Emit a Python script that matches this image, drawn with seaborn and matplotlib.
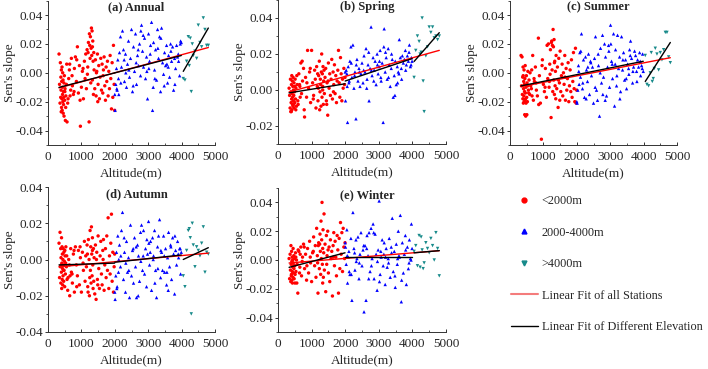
import numpy as np
import pandas as pd
import matplotlib
matplotlib.use('Agg')
import matplotlib.pyplot as plt
from matplotlib.lines import Line2D
from matplotlib.ticker import MultipleLocator
import seaborn as sns

# station altitudes (m), same stations in every season
alt_low = [330, 345, 360, 370, 380, 385, 390, 400, 405, 410,
           415, 420, 425, 430, 435, 440, 445, 450, 455, 460,
           470, 475, 480, 490, 500, 510, 520, 535, 550, 570,
           590, 620, 650, 680, 700, 730, 760, 790, 820, 850,
           880, 910, 940, 970, 1000, 1030, 1060, 1090, 1110, 1130,
           1150, 1170, 1190, 1210, 1230, 1250, 1260, 1270, 1280, 1290,
           1300, 1310, 1320, 1330, 1340, 1350, 1360, 1370, 1380, 1400,
           1420, 1440, 1460, 1480, 1500, 1520, 1540, 1560, 1580, 1600,
           1620, 1640, 1660, 1680, 1700, 1720, 1740, 1760, 1780, 1800,
           1820, 1840, 1860, 1880, 1900, 1920, 1940, 1960, 1980, 1995,
           560, 600, 640, 720, 780, 860, 960, 1050, 1200, 1450,
           395, 465, 505, 530, 660, 1180, 1240, 1330, 1490, 1650]
alt_mid = [2010, 2030, 2050, 2070, 2090, 2110, 2140, 2170, 2200, 2230,
           2260, 2290, 2320, 2350, 2380, 2410, 2440, 2470, 2500, 2530,
           2560, 2590, 2620, 2650, 2680, 2710, 2740, 2770, 2800, 2830,
           2860, 2890, 2920, 2950, 2980, 3010, 3040, 3070, 3100, 3130,
           3160, 3190, 3220, 3250, 3280, 3310, 3340, 3370, 3400, 3430,
           3460, 3490, 3520, 3550, 3580, 3610, 3640, 3670, 3700, 3730,
           3760, 3790, 3820, 3850, 3880, 3910, 3940, 3970, 3990, 2120,
           2060, 2180, 2280, 2420, 2550, 2700, 2850, 2960, 3060, 3200,
           3290, 3380, 3480, 3600, 3680, 3800, 3900, 3960, 2000, 2330,
           2640, 2780, 3020, 3150, 3560]
alt_high = [4050, 4100, 4150, 4200, 4230, 4260, 4290, 4320, 4350, 4400,
            4450, 4500, 4550, 4600, 4650, 4700, 4750, 4800]

# Sen's slope values, <2000m stations
annual_low = [0.013, -0.008, -0.021, 0.007, -0.017, -0.003, -0.012, 0.002, -0.024, -0.006,
              -0.018, 0.004, -0.026, -0.010, -0.015, 0.000, -0.020, -0.005, -0.028, -0.013,
              -0.017, -0.007, -0.030, -0.002, -0.019, -0.011, -0.033, -0.016, -0.008, -0.034,
              -0.021, -0.004, 0.006, -0.012, 0.010, -0.009, -0.015, 0.003, 0.011, -0.006,
              0.018, -0.014, 0.005, -0.037, -0.010, 0.001, -0.018, 0.008, -0.004, 0.013,
              -0.011, 0.016, 0.004, 0.021, -0.034, 0.019, 0.010, 0.025, -0.007, 0.017,
              0.031, 0.012, 0.029, -0.005, 0.022, 0.008, -0.015, 0.014, 0.002, -0.011,
              0.009, -0.016, 0.001, 0.013, -0.008, 0.005, -0.018, -0.003, 0.010, -0.012,
              0.006, -0.014, 0.002, 0.011, -0.009, -0.019, 0.004, -0.006, 0.008, -0.016,
              0.001, -0.011, 0.012, -0.004, -0.025, 0.007, -0.017, 0.019, -0.008, -0.026,
              0.006, -0.018, 0.002, -0.002, -0.013, 0.009, -0.019, 0.003, 0.014, 0.000,
              -0.027, -0.022, -0.013, -0.024, -0.016, -0.001, 0.027, 0.018, -0.020, -0.002]
spring_low = [0.001, -0.003, -0.010, 0.006, -0.012, -0.001, -0.007, 0.003, -0.005, 0.008,
              -0.011, -0.002, 0.005, -0.008, -0.004, 0.002, -0.009, 0.007, -0.006, 0.000,
              -0.003, 0.004, -0.010, -0.001, -0.007, 0.006, -0.005, 0.001, -0.009, 0.003,
              -0.006, 0.009, 0.002, 0.015, -0.002, 0.005, 0.012, -0.015, 0.007, -0.004,
              0.022, 0.001, 0.010, -0.007, 0.022, 0.004, -0.003, 0.011, 0.006, -0.010,
              0.013, 0.002, -0.006, 0.008, 0.016, -0.001, 0.006, 0.003, -0.009, 0.010,
              0.020, -0.004, 0.009, 0.002, 0.013, -0.008, 0.005, 0.011, -0.002, 0.007,
              0.012, -0.006, 0.004, -0.014, 0.015, 0.001, 0.009, -0.003, 0.006, 0.017,
              -0.005, 0.010, 0.003, 0.014, -0.002, 0.008, -0.007, 0.005, 0.011, 0.022,
              0.004, -0.004, 0.018, 0.009, -0.006, 0.006, 0.001, 0.012, 0.003, 0.007,
              0.008, -0.008, 0.003, 0.016, -0.011, 0.004, 0.012, -0.005, 0.001, -0.008,
              -0.012, -0.008, 0.002, -0.011, -0.004, 0.009, -0.011, 0.000, 0.005, -0.001]
summer_low = [0.012, -0.009, 0.011, -0.015, -0.003, -0.018, 0.004, -0.021, -0.011, -0.006,
              -0.016, 0.002, -0.020, -0.008, -0.013, -0.029, -0.004, -0.019, 0.005, -0.014,
              -0.030, -0.010, -0.021, -0.002, -0.017, -0.007, -0.020, 0.001, -0.012, -0.005,
              -0.015, -0.009, 0.002, 0.012, -0.019, -0.006, 0.004, -0.012, -0.016, 0.024,
              -0.002, -0.021, -0.046, 0.009, -0.008, -0.013, 0.003, -0.017, 0.019, -0.004,
              0.020, -0.010, 0.006, 0.016, -0.031, 0.022, 0.002, 0.019, -0.013, 0.030,
              0.018, -0.005, 0.023, -0.015, 0.008, -0.009, 0.001, -0.018, 0.012, -0.011,
              0.004, -0.024, 0.010, -0.007, 0.015, -0.013, -0.002, 0.006, -0.016, 0.000,
              -0.008, 0.012, -0.019, 0.003, -0.012, -0.004, 0.007, -0.020, -0.009, 0.002,
              -0.013, 0.009, -0.017, -0.006, 0.014, -0.011, -0.020, 0.017, -0.021, -0.012,
              -0.014, 0.000, -0.011, -0.004, -0.007, -0.022, 0.005, -0.010, -0.001, -0.005,
              -0.002, -0.018, -0.029, -0.009, -0.016, -0.006, 0.021, 0.007, -0.019, -0.003]
autumn_low = [0.009, -0.010, 0.015, -0.004, 0.006, -0.013, 0.001, -0.007, 0.012, -0.016,
              -0.002, 0.007, -0.011, 0.003, -0.005, -0.014, 0.000, -0.009, 0.006, -0.003,
              -0.012, 0.004, -0.006, -0.001, -0.015, 0.002, -0.008, 0.007, -0.004, -0.011,
              -0.017, 0.000, -0.020, 0.006, -0.007, -0.013, 0.003, -0.018, 0.007, -0.003,
              -0.009, 0.005, -0.014, 0.001, -0.018, 0.004, -0.006, 0.010, -0.012, 0.002,
              -0.004, 0.008, -0.015, 0.011, 0.000, -0.010, 0.016, -0.006, 0.007, -0.013,
              0.018, 0.003, -0.009, 0.012, -0.003, -0.016, 0.006, -0.012, 0.001, -0.019,
              0.008, -0.022, 0.004, -0.011, 0.013, -0.005, -0.016, 0.002, 0.010, -0.008,
              -0.014, 0.005, 0.011, -0.017, -0.003, 0.006, -0.010, 0.013, -0.006, 0.023,
              -0.016, 0.002, -0.008, 0.009, 0.025, -0.012, 0.004, -0.018, -0.004, 0.003,
              0.002, -0.010, -0.003, -0.008, 0.005, -0.015, 0.007, -0.002, -0.018, 0.000,
              -0.003, -0.006, 0.005, -0.002, -0.009, 0.003, -0.020, 0.005, -0.014, 0.000]
winter_low = [0.001, -0.013, 0.004, -0.007, -0.015, 0.010, -0.003, -0.010, 0.006, -0.001,
              -0.014, 0.002, -0.008, -0.016, 0.000, -0.005, -0.012, 0.008, -0.002, -0.009,
              0.003, -0.006, -0.013, 0.001, -0.004, -0.010, 0.005, -0.008, 0.000, -0.003,
              -0.023, 0.006, -0.005, 0.009, -0.011, 0.002, 0.011, -0.006, 0.004, -0.014,
              0.008, -0.009, 0.013, -0.002, -0.015, 0.005, 0.016, -0.004, 0.010, -0.012,
              0.022, 0.003, -0.023, 0.012, -0.006, 0.018, 0.006, -0.010, 0.027, 0.001,
              0.014, 0.040, -0.003, 0.008, 0.021, -0.012, 0.005, 0.032, -0.007, 0.011,
              -0.022, 0.017, 0.003, 0.020, -0.009, 0.009, -0.015, 0.014, 0.001, 0.006,
              -0.025, 0.010, 0.019, -0.004, 0.013, 0.002, -0.011, 0.017, 0.007, -0.023,
              0.015, -0.006, 0.026, 0.004, 0.019, -0.008, 0.022, 0.009, 0.001, 0.012,
              -0.016, 0.007, -0.009, -0.001, 0.009, -0.004, 0.002, 0.006, 0.010, -0.003,
              -0.011, -0.004, -0.016, 0.002, 0.004, -0.002, 0.011, -0.016, 0.007, 0.002]

# 2000-4000m stations
annual_mid = [-0.026, -0.008, 0.003, -0.012, 0.009, -0.004, 0.014, 0.025, 0.004, 0.029,
              0.016, -0.006, 0.013, -0.010, 0.006, 0.022, -0.003, 0.010, 0.030, -0.013,
              0.018, 0.001, 0.027, -0.008, 0.012, 0.005, 0.020, -0.002, 0.033, 0.015,
              0.004, 0.024, -0.004, 0.011, -0.018, 0.027, 0.008, 0.019, 0.035, -0.026,
              0.021, 0.002, 0.016, -0.005, 0.030, 0.010, 0.025, -0.013, 0.031, 0.007,
              -0.001, 0.014, 0.005, 0.019, -0.007, 0.012, -0.003, 0.020, 0.008, 0.018,
              -0.012, 0.010, 0.003, 0.019, 0.011, 0.008, -0.002, 0.022, 0.021, -0.015,
              -0.011, -0.007, 0.009, 0.002, -0.009, 0.016, 0.026, 0.001, 0.013, -0.004,
              0.017, 0.024, -0.009, 0.004, 0.015, -0.008, 0.013, 0.020, -0.015, 0.000,
              0.007, 0.029, 0.003, -0.010, 0.006]
spring_mid = [-0.006, 0.011, 0.009, -0.018, 0.013, 0.004, 0.016, 0.024, 0.007, 0.025,
              0.001, 0.010, -0.016, 0.017, 0.005, 0.012, 0.002, 0.009, 0.015, 0.004,
              0.019, 0.010, 0.023, 0.006, 0.014, -0.006, 0.012, 0.035, 0.008, 0.018,
              0.011, 0.016, 0.003, 0.020, 0.009, 0.013, 0.022, 0.005, 0.015, -0.018,
              0.034, 0.010, 0.018, 0.006, 0.023, 0.014, 0.002, 0.012, 0.017, -0.004,
              0.008, 0.016, 0.003, 0.013, 0.010, 0.028, 0.018, 0.012, 0.019, 0.015,
              0.017, 0.022, 0.014, 0.019, 0.016, 0.025, 0.013, 0.018, 0.016, 0.005,
              0.002, 0.015, 0.008, 0.010, 0.011, 0.021, 0.005, 0.014, 0.007, 0.021,
              0.007, 0.020, -0.003, 0.009, 0.006, 0.011, 0.021, 0.014, 0.010, 0.014,
              0.001, 0.011, 0.016, 0.024, 0.004]
summer_mid = [-0.021, -0.012, 0.005, -0.008, 0.014, -0.003, 0.027, -0.011, 0.009, -0.017,
              0.011, 0.002, -0.006, 0.013, -0.015, 0.008, -0.002, 0.004, -0.021, 0.010,
              0.025, -0.012, -0.019, 0.005, -0.030, 0.017, -0.007, 0.026, -0.003, 0.020,
              0.011, -0.016, 0.004, 0.019, -0.010, 0.033, 0.008, -0.004, 0.027, -0.023,
              0.016, -0.009, 0.026, 0.003, 0.011, -0.013, 0.025, 0.002, 0.014, -0.005,
              0.009, -0.011, 0.006, 0.003, 0.016, 0.022, 0.010, -0.007, 0.004, 0.015,
              0.012, 0.001, 0.009, 0.004, 0.014, -0.002, 0.005, 0.013, 0.001, 0.015,
              0.001, -0.007, -0.018, 0.007, -0.010, 0.000, -0.019, 0.015, 0.006, -0.002,
              -0.018, 0.009, -0.004, 0.012, 0.001, -0.006, 0.008, 0.003, -0.020, 0.004,
              0.013, -0.015, 0.020, 0.006, -0.001]
autumn_mid = [-0.022, -0.009, 0.004, -0.015, 0.013, -0.007, 0.008, -0.004, 0.016, 0.026,
              -0.011, 0.004, -0.018, 0.010, -0.007, 0.001, -0.021, 0.019, -0.009, 0.005,
              -0.013, 0.012, -0.004, -0.021, 0.008, 0.002, -0.012, 0.015, 0.019, -0.006,
              0.016, -0.008, 0.006, -0.015, 0.003, 0.021, -0.003, 0.010, -0.017, 0.012,
              0.002, 0.016, -0.006, -0.021, 0.007, 0.013, 0.022, -0.010, 0.004, -0.006,
              0.013, -0.007, 0.006, -0.014, 0.001, 0.015, -0.004, 0.008, -0.011, 0.012,
              0.003, -0.019, 0.005, -0.003, 0.010, 0.001, 0.006, -0.008, 0.004, 0.000,
              -0.016, 0.002, 0.012, -0.006, 0.006, -0.020, 0.002, 0.011, 0.004, -0.013,
              -0.005, 0.005, 0.002, -0.017, 0.007, 0.013, 0.003, 0.006, -0.018, -0.002,
              0.007, -0.001, 0.009, 0.000, -0.007]
winter_mid = [0.009, -0.003, 0.021, -0.016, 0.002, 0.006, -0.010, 0.015, -0.028, 0.033,
              0.008, -0.007, 0.014, 0.001, 0.016, -0.013, 0.004, 0.019, -0.004, 0.007,
              -0.036, 0.010, -0.028, 0.017, 0.003, 0.019, -0.008, 0.022, 0.001, 0.025,
              -0.013, 0.018, 0.004, -0.021, 0.007, 0.041, -0.010, 0.002, 0.014, -0.004,
              0.012, -0.017, 0.008, -0.005, 0.001, 0.015, -0.012, 0.009, 0.029, -0.008,
              0.006, -0.019, 0.011, -0.003, 0.020, 0.002, 0.031, -0.029, 0.012, -0.009,
              0.004, 0.017, -0.017, 0.009, -0.006, 0.014, 0.001, 0.025, 0.008, -0.008,
              0.003, -0.010, 0.005, -0.002, 0.010, -0.013, 0.019, -0.001, 0.006, 0.002,
              -0.002, 0.005, -0.011, 0.003, -0.014, 0.007, -0.002, 0.000, 0.012, -0.001,
              0.008, -0.004, -0.015, 0.004, 0.001]

# >4000m stations
annual_high = [-0.004, -0.005, 0.008, 0.025, 0.005, 0.024, -0.013, 0.020, 0.012, 0.015,
               0.010, 0.033, 0.021, 0.018, 0.038, 0.030, 0.019, 0.019]
spring_high = [0.007, 0.022, 0.030, 0.027, 0.020, 0.021, 0.040, 0.005, -0.012, 0.019,
               0.024, 0.035, 0.032, 0.035, 0.029, 0.030, 0.028, 0.030]
summer_high = [0.012, -0.008, -0.009, 0.000, 0.014, -0.006, -0.004, 0.003, 0.017, 0.013,
               0.002, 0.014, 0.009, 0.016, 0.028, 0.028, 0.011, 0.007]
autumn_high = [-0.009, -0.015, 0.005, 0.016, 0.017, 0.012, -0.030, 0.020, 0.008, -0.004,
               0.007, 0.005, 0.002, 0.009, 0.018, -0.007, 0.004, 0.003]
winter_high = [0.006, 0.010, -0.004, 0.017, -0.005, 0.016, 0.007, -0.006, -0.002, 0.012,
               0.008, 0.005, 0.015, 0.010, 0.000, 0.019, 0.008, -0.011]

seasons = ['Annual', 'Spring', 'Summer', 'Autumn', 'Winter']
titles = ['(a) Annual', '(b) Spring', '(c) Summer', '(d) Autumn', '(e) Winter']
groups = ['<2000m', '2000-4000m', '>4000m']

# linear fits: slope per 1000 m, intercept
fit_all_k = [0.00625, 0.00517, 0.00449, 0.00169, 0.00191]
fit_all_b = [-0.0125, -0.0028, -0.0111, -0.0046, -0.0027]
fit_low_k = [0.00603, 0.00303, 0.00466, 0.000606, 0.00606]
fit_low_b = [-0.0121, -0.0026, -0.0106, -0.0032, -0.0071]
fit_mid_k = [0.00603, 0.00625, 0.00466, 0.002, 0.0]
fit_mid_b = [-0.0121, -0.0075, -0.0106, -0.0055, 0.002]
fit_high_k = [0.04, 0.0213, 0.036, 0.00867, 0.002]
fit_high_b = [-0.161, -0.0704, -0.1518, -0.0351, -0.0031]

ylims = [(-0.05, 0.05), (-0.03, 0.05), (-0.05, 0.05), (-0.04, 0.04), (-0.05, 0.05)]

slopes = {'Annual': (annual_low, annual_mid, annual_high),
          'Spring': (spring_low, spring_mid, spring_high),
          'Summer': (summer_low, summer_mid, summer_high),
          'Autumn': (autumn_low, autumn_mid, autumn_high),
          'Winter': (winter_low, winter_mid, winter_high)}

rows = []
for s in seasons:
    for g, alts, vals in zip(groups, (alt_low, alt_mid, alt_high), slopes[s]):
        assert len(alts) == len(vals)
        for a, v in zip(alts, vals):
            rows.append((s, g, a, v))
df = pd.DataFrame(rows, columns=['season', 'group', 'altitude', 'slope'])

sns.set_theme(style='ticks')
plt.rcParams['font.family'] = ['Liberation Serif', 'DejaVu Serif']

palette = {'<2000m': '#ff0000', '2000-4000m': '#0000ff', '>4000m': '#178a8a'}
markers = {'<2000m': 'o', '2000-4000m': '^', '>4000m': 'v'}

fig = plt.figure(figsize=(7.08, 3.69), dpi=100)
W, H = 708, 369
# axes boxes in pixels: left, top, right, bottom
boxes = [(48, 0.6, 215, 145), (278, 0, 446, 144), (510, 0.6, 677, 145),
         (48, 187, 215, 332), (278, 188, 446, 332)]

for i, s in enumerate(seasons):
    l, t, r, b = boxes[i]
    ax = fig.add_axes([l / W, 1 - b / H, (r - l) / W, (b - t) / H])
    sub = df[df.season == s]
    sns.scatterplot(data=sub, x='altitude', y='slope', hue='group', style='group',
                    palette=palette, markers=markers, s=6, linewidth=0,
                    legend=False, ax=ax, zorder=2)

    xa = np.array([min(alt_low), max(alt_high)])
    ax.plot(xa, fit_all_b[i] + fit_all_k[i] * xa / 1000, color='red', lw=1.0, zorder=3)
    for alts, k, c in ((alt_low, fit_low_k, fit_low_b), (alt_mid, fit_mid_k, fit_mid_b),
                       (alt_high, fit_high_k, fit_high_b)):
        xg = np.array([min(alts), max(alts)])
        ax.plot(xg, c[i] + k[i] * xg / 1000, color='black', lw=1.0, zorder=4)

    ax.set_xlim(0, 5000)
    ax.set_ylim(*ylims[i])
    ax.xaxis.set_major_locator(MultipleLocator(1000))
    ax.xaxis.set_minor_locator(MultipleLocator(500))
    ax.yaxis.set_major_locator(MultipleLocator(0.02))
    ax.yaxis.set_minor_locator(MultipleLocator(0.01))
    ax.yaxis.set_major_formatter(matplotlib.ticker.FormatStrFormatter('%.2f'))
    ax.tick_params(which='major', length=2.5, width=0.7, labelsize=9.5, color='#333333')
    ax.tick_params(which='minor', length=1.5, width=0.6, color='#333333')
    ax.tick_params(axis='x', which='both', direction='in', pad=4)
    ax.tick_params(axis='y', which='both', direction='out', pad=1)
    sns.despine(ax=ax)
    for sp in ('left', 'bottom'):
        ax.spines[sp].set_linewidth(0.7)
        ax.spines[sp].set_color('#333333')

    ax.set_xlabel('Altitude(m)', fontsize=9.5)
    ax.set_ylabel("Sen's slope", fontsize=9.5)
    wpx, hpx = r - l, b - t
    ax.xaxis.set_label_coords(0.5, -22 / hpx)
    ax.yaxis.set_label_coords(-32 / wpx, 0.5)
    ax.text(0.53, 1 - 7 / hpx, titles[i], transform=ax.transAxes, ha='center', va='center',
            fontsize=9, fontweight='bold')

handles = [Line2D([], [], marker='o', color='#ff0000', linestyle='none', markersize=3.5),
           Line2D([], [], marker='^', color='#0000ff', linestyle='none', markersize=3.5),
           Line2D([], [], marker='v', color='#178a8a', linestyle='none', markersize=3.5),
           Line2D([], [], color='#f47c7c', lw=1.5),
           Line2D([], [], color='black', lw=1.0)]
labels = groups + ['Linear Fit of all Stations', 'Linear Fit of Different Elevation']
fig.legend(handles, labels, loc='upper left', bbox_to_anchor=(500 / W, 1 - 184 / H),
           frameon=False, fontsize=8.8, handlelength=2.2, handletextpad=0.3,
           labelspacing=1.6, borderpad=0.4)

fig.savefig('out.png', dpi=100)
